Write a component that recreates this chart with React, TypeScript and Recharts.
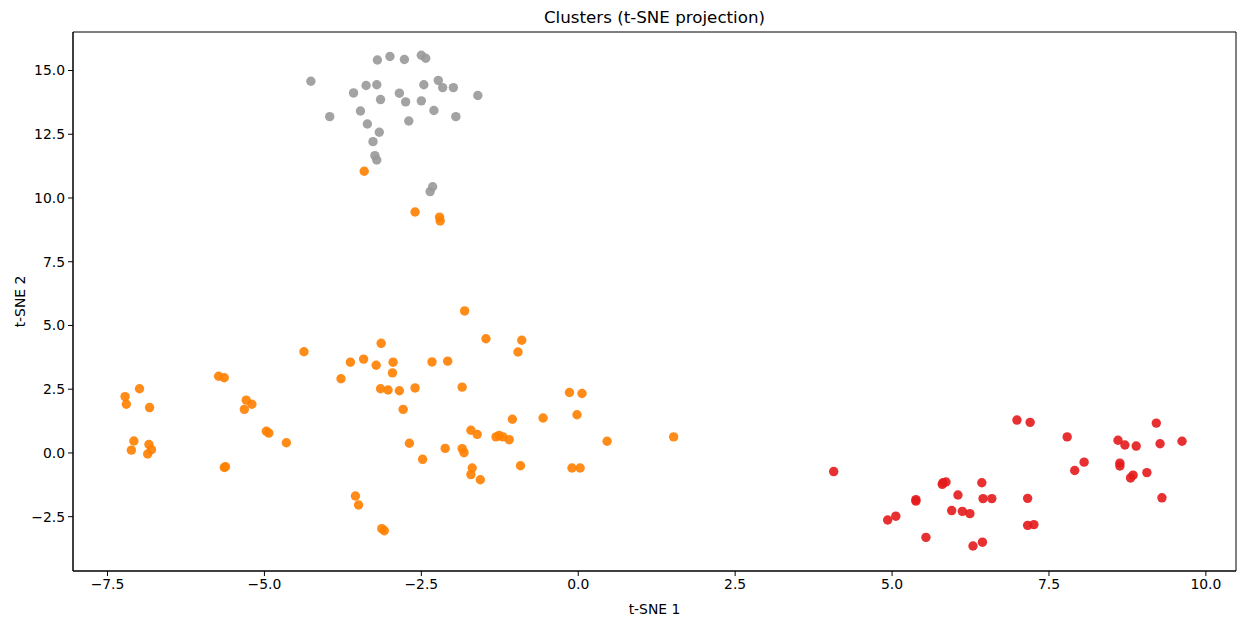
import {
	ScatterChart,
	Scatter,
	XAxis,
	YAxis,
	ReferenceArea,
	Label,
} from "recharts";

// t-SNE coordinates, one list per cluster
const grayCluster: [number, number][] = [
	[-4.26, 14.58], [-3.2, 15.41], [-3.0, 15.55], [-2.77, 15.43], [-2.5, 15.6],
	[-2.43, 15.48], [-3.38, 14.41], [-3.21, 14.44], [-3.58, 14.12], [-3.15, 13.86],
	[-2.85, 14.11], [-2.75, 13.77], [-2.5, 13.81], [-2.46, 14.44], [-2.23, 14.61],
	[-2.16, 14.33], [-1.99, 14.33], [-1.6, 14.02], [-3.96, 13.19], [-3.47, 13.41],
	[-2.3, 13.43], [-1.95, 13.19], [-2.7, 13.02], [-3.36, 12.9], [-3.17, 12.58],
	[-3.27, 12.21], [-3.24, 11.66], [-3.21, 11.49], [-2.32, 10.44], [-2.36, 10.25],
];

const orangeCluster: [number, number][] = [
	[-3.41, 11.05], [-2.6, 9.45], [-2.21, 9.25], [-2.2, 9.1],
	[-7.22, 2.21], [-7.2, 1.91], [-6.99, 2.52], [-6.83, 1.78], [-7.08, 0.47],
	[-7.12, 0.11], [-6.84, 0.33], [-6.8, 0.13], [-6.86, -0.04], [-5.73, 3.01],
	[-5.64, 2.95], [-5.29, 2.07], [-5.2, 1.91], [-5.32, 1.71], [-4.97, 0.85],
	[-4.93, 0.78], [-4.65, 0.4], [-5.62, -0.54], [-5.64, -0.57],
	[-1.81, 5.57], [-1.47, 4.48], [-0.9, 4.42], [-0.96, 3.96], [-3.14, 4.3],
	[-4.37, 3.97], [-3.63, 3.56], [-3.42, 3.68], [-3.22, 3.44], [-2.95, 3.56],
	[-2.96, 3.14], [-2.33, 3.57], [-2.08, 3.6], [-3.78, 2.91], [-3.15, 2.52],
	[-3.03, 2.47], [-2.85, 2.44], [-2.6, 2.55], [-1.85, 2.58], [-2.79, 1.71],
	[-2.69, 0.38], [-2.48, -0.25], [-2.12, 0.18], [-1.85, 0.17], [-1.82, 0.01],
	[-1.71, 0.89], [-1.61, 0.73], [-1.69, -0.59], [-1.71, -0.85], [-1.56, -1.05],
	[-1.31, 0.63], [-1.26, 0.69], [-1.2, 0.63], [-1.1, 0.52], [-1.05, 1.32],
	[-0.56, 1.37], [-0.92, -0.5], [-3.55, -1.69], [-3.5, -2.04], [-3.13, -2.97],
	[-3.09, -3.05], [-0.14, 2.37], [0.06, 2.33], [-0.02, 1.5], [0.46, 0.46],
	[1.52, 0.63], [-0.1, -0.59], [0.03, -0.59],
];

const redCluster: [number, number][] = [
	[4.07, -0.73], [6.99, 1.29], [7.2, 1.2], [4.93, -2.63], [5.06, -2.48],
	[5.38, -1.83], [5.38, -1.89], [5.54, -3.31], [5.8, -1.23], [5.81, -1.17],
	[5.86, -1.14], [6.05, -1.65], [5.95, -2.26], [6.12, -2.29], [6.24, -2.38],
	[6.29, -3.65], [6.44, -3.5], [6.43, -1.17], [6.45, -1.79], [6.59, -1.79],
	[7.16, -1.78], [7.16, -2.84], [7.26, -2.81], [7.79, 0.63], [8.06, -0.36],
	[7.91, -0.69], [8.6, 0.5], [8.71, 0.31], [8.89, 0.27], [9.21, 1.17],
	[9.27, 0.36], [9.62, 0.46], [8.63, -0.4], [8.63, -0.51], [8.84, -0.87],
	[8.8, -0.98], [9.06, -0.77], [9.3, -1.76],
];

const xTicks = [-7.5, -5, -2.5, 0, 2.5, 5, 7.5, 10];
const yTicks = [-2.5, 0, 2.5, 5, 7.5, 10, 12.5, 15];
const X_DOMAIN: [number, number] = [-8.05, 10.48];
const Y_DOMAIN: [number, number] = [-4.63, 16.51];

const toRows = (pts: [number, number][]) => pts.map(([x, y]) => ({ x, y }));

const fmt = (v: number) => v.toFixed(1).replace("-", "\u2212");

const dot = (color: string) => (p: any) => (
	<circle cx={p.cx} cy={p.cy} r={4.7} fill={color} fillOpacity={0.9} />
);

const font = "'DejaVu Sans', sans-serif";
const tickStyle = { fill: "#000", fontSize: 13.9, fontFamily: font };

export default function App() {
	return (
		<div style={{ position: "absolute", left: 0, top: 0, width: 1245, height: 624, background: "#fff" }}>
			<div
				style={{
					position: "absolute",
					left: 73,
					width: 1163,
					top: 7,
					textAlign: "center",
					fontFamily: font,
					fontSize: 16.7,
					color: "#000",
				}}
			>
				Clusters (t-SNE projection)
			</div>
			<ScatterChart
				width={1245}
				height={624}
				margin={{ top: 32, right: 9, bottom: 0, left: 10 }}
			>
				<XAxis
					type="number"
					dataKey="x"
					domain={X_DOMAIN}
					allowDataOverflow
					ticks={xTicks}
					tickFormatter={fmt}
					height={53}
					stroke="#000"
					tickSize={5}
					tickMargin={3}
					tick={tickStyle}
				>
					<Label
						value="t-SNE 1"
						position="insideBottom"
						offset={10}
						style={{ fill: "#000", fontSize: 13.9, fontFamily: font }}
					/>
				</XAxis>
				<YAxis
					type="number"
					dataKey="y"
					domain={Y_DOMAIN}
					allowDataOverflow
					ticks={yTicks}
					tickFormatter={fmt}
					width={63}
					stroke="#000"
					tickSize={5}
					tickMargin={3}
					tick={tickStyle}
				>
					<Label
						value="t-SNE 2"
						angle={-90}
						position="insideLeft"
						offset={10}
						style={{ fill: "#000", fontSize: 13.9, fontFamily: font, textAnchor: "middle" }}
					/>
				</YAxis>
				<ReferenceArea
					x1={X_DOMAIN[0]}
					x2={X_DOMAIN[1]}
					y1={Y_DOMAIN[0]}
					y2={Y_DOMAIN[1]}
					fill="none"
					stroke="#000"
					strokeWidth={1}
				/>
				<Scatter data={toRows(redCluster)} shape={dot("#e41a1c")} isAnimationActive={false} />
				<Scatter data={toRows(orangeCluster)} shape={dot("#ff7f00")} isAnimationActive={false} />
				<Scatter data={toRows(grayCluster)} shape={dot("#999999")} isAnimationActive={false} />
			</ScatterChart>
		</div>
	);
}
